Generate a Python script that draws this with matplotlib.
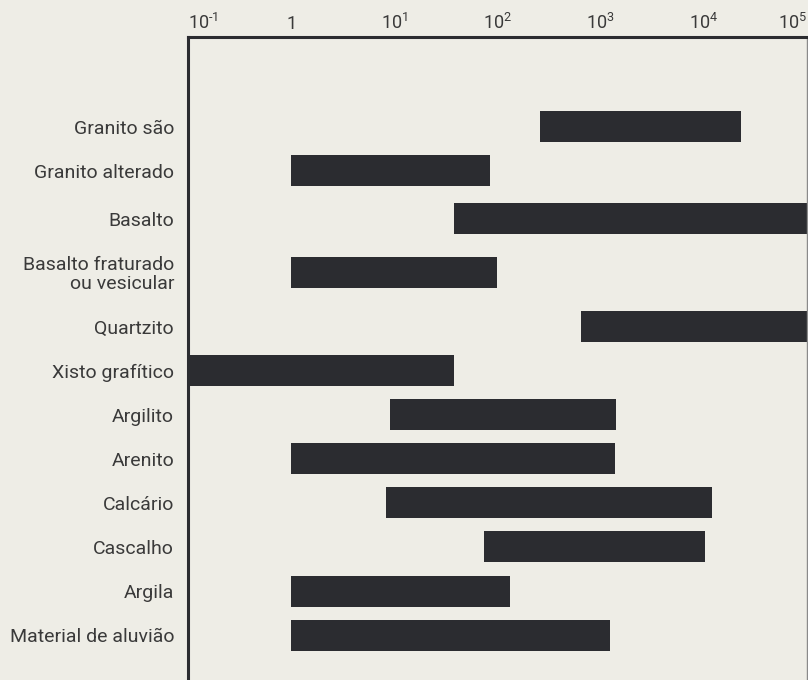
import matplotlib
matplotlib.use("Agg")
import matplotlib.pyplot as plt
import numpy as np

# Permeability ranges (lower, upper) per material
materials = [
    "Granito são",
    "Granito alterado",
    "Basalto",
    "Basalto fraturado\nou vesicular",
    "Quartzito",
    "Xisto grafítico",
    "Argilito",
    "Arenito",
    "Calcário",
    "Cascalho",
    "Argila",
    "Material de aluvião",
]
low = [260, 1, 38, 1, 640, 0.1, 9, 1, 8.3, 74, 1, 1]
high = [23000, 84, 1e5, 100, 1e5, 38, 1400, 1380, 12000, 10200, 132, 1230]

tick_values = [1e-1, 1, 1e1, 1e2, 1e3, 1e4, 1e5]
tick_labels = [r"$\mathregular{10^{\text{-}1}}$", "1", r"$\mathregular{10^{1}}$",
               r"$\mathregular{10^{2}}$", r"$\mathregular{10^{3}}$",
               r"$\mathregular{10^{4}}$", r"$\mathregular{10^{5}}$"]

# Layout (pixel units along the vertical axis)
first_row = 89.5
row_steps = [44, 48, 54, 54, 44, 44, 44, 44, 44, 45, 44]
bar_h = 31

BG = "#eeede6"
BAR = "#2b2c30"
TXT = "#3a3a3a"

plt.rcParams["font.family"] = ["Roboto", "DejaVu Sans"]
plt.rcParams["mathtext.fontset"] = "custom"
plt.rcParams["mathtext.rm"] = "Roboto"

W, H = 808, 680
fig = plt.figure(figsize=(W / 100, H / 100), dpi=100, facecolor=BG)
ax_left, ax_right, ax_top = 188, 807, 37
ax = fig.add_axes([ax_left / W, 0, (ax_right - ax_left) / W, (H - ax_top) / H])
ax.set_facecolor(BG)

ys = np.concatenate([[first_row], first_row + np.cumsum(row_steps)])
lo = np.array(low)
hi = np.array(high)
ax.barh(ys, hi - lo, left=lo, height=bar_h, color=BAR, linewidth=0)

ax.set_xscale("log")
ax.set_xlim(1e-1, 1e5)
ax.set_ylim(H - ax_top, 0)

ax.set_xticks(tick_values)
ax.set_xticklabels(tick_labels)
ax.xaxis.set_minor_locator(matplotlib.ticker.NullLocator())
ax.tick_params(axis="x", top=True, bottom=False, labeltop=True, labelbottom=False,
               length=0, pad=3, labelsize=13, labelcolor=TXT)
xlabs = ax.get_xticklabels(which="major")
xlabs[0].set_horizontalalignment("left")
xlabs[-1].set_horizontalalignment("right")

ax.set_yticks(ys)
ax.set_yticklabels(materials)
ax.tick_params(axis="y", length=0, pad=10, labelsize=14, labelcolor=TXT)
for lab in ax.get_yticklabels():
    lab.set_horizontalalignment("right")
    lab.set_multialignment("right")
    lab.set_linespacing(1.05)

for side in ("left", "top"):
    ax.spines[side].set_color(BAR)
    ax.spines[side].set_linewidth(2.2)
ax.spines["bottom"].set_visible(False)
ax.spines["right"].set_color("#8a8a8a")
ax.spines["right"].set_linewidth(1.0)

fig.savefig("out.png", dpi=100, facecolor=BG)
